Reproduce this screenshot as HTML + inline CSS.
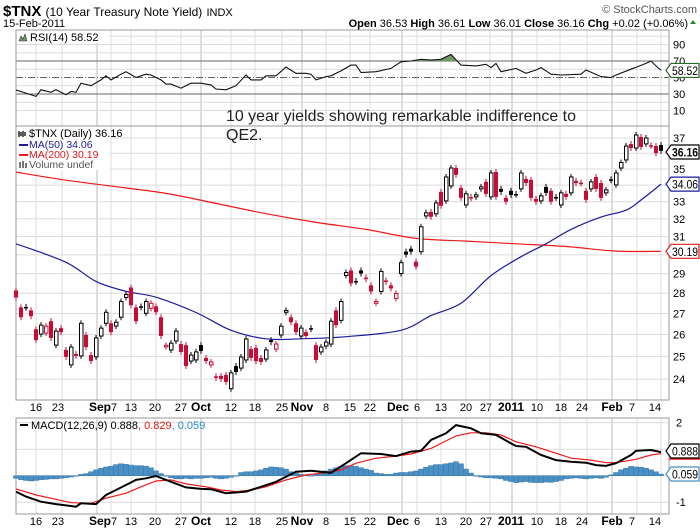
<!DOCTYPE html>
<html><head><meta charset="utf-8">
<style>
html,body{margin:0;padding:0;background:#fff;}
svg{display:block;font-family:"Liberation Sans",Arial,sans-serif;}
</style></head>
<body>
<svg id="chart" width="700" height="530" viewBox="0 0 700 530" xmlns="http://www.w3.org/2000/svg" style="position:absolute;left:0;top:0;">
  <text x="3" y="16" font-size="15" font-weight="bold" fill="#000">$TNX <tspan font-size="12" font-weight="normal">(10 Year Treasury Note Yield)</tspan> <tspan font-size="11" font-weight="normal">INDX</tspan></text>
  <text x="3" y="27" font-size="11" fill="#000">15-Feb-2011</text>
  <text x="697" y="13" font-size="11" fill="#555" text-anchor="end">© StockCharts.com</text>
  <text x="688" y="27" font-size="11" fill="#000" text-anchor="end"><tspan font-weight="bold">Open</tspan> 36.53  <tspan font-weight="bold">High</tspan> 36.61  <tspan font-weight="bold">Low</tspan> 36.01  <tspan font-weight="bold">Close</tspan> 36.16  <tspan font-weight="bold">Chg</tspan> +0.02 (+0.06%)</text>
  <polygon points="690,24 693,20 696,24" fill="#2a8a2a"/>
  <g id="grid"></g>
  <g id="series"></g>
  <g id="legends">
    <g>
      <rect x="17" y="31" width="92" height="12" fill="#fff"/>
      <path d="M19,41 L21,36 L23,39 L25,34 L27,41 Z" fill="#6f9a66" stroke="#333" stroke-width="0.6"/>
      <text x="30" y="41" font-size="11" fill="#000">RSI(14) 58.52</text>
    </g>
    <g>
      <rect x="17" y="127" width="93" height="43" fill="#fff"/>
      <path d="M19,131 v6 M21,132 v4 M23,131 v6 M25,132 v4" stroke="#000" stroke-width="1.3"/>
      <text x="29" y="137" font-size="11" fill="#000">$TNX (Daily) 36.16</text>
      <line x1="19" y1="145" x2="28" y2="145" stroke="#1c1c9c" stroke-width="2"/>
      <text x="29" y="148" font-size="10.5" fill="#1c1c9c">MA(50) 34.06</text>
      <line x1="19" y1="155" x2="28" y2="155" stroke="#f01818" stroke-width="2"/>
      <text x="29" y="158" font-size="10.5" fill="#e01818">MA(200) 30.19</text>
      <rect x="19" y="162" width="2" height="6" fill="#777"/><rect x="22" y="161" width="2" height="7" fill="#777"/><rect x="25" y="163" width="2" height="5" fill="#777"/>
      <text x="29" y="168" font-size="10.5" fill="#555">Volume undef</text>
    </g>
    <g>
      <text x="226" y="121" font-size="16" fill="#222" textLength="350" lengthAdjust="spacingAndGlyphs">10 year yields showing remarkable indifference to</text>
      <text x="226" y="140" font-size="16" fill="#222">QE2.</text>
    </g>
    <g>
      <line x1="20" y1="425" x2="28" y2="425" stroke="#000" stroke-width="2"/>
      <text x="31" y="429" font-size="11" fill="#000">MACD(12,26,9) 0.888<tspan fill="#e01818">, 0.829</tspan><tspan fill="#2a8ac8">, 0.059</tspan></text>
    </g>
  </g>
  <g id="overlay"></g>
</svg>
<script>
// ---------- DATA ----------
const openVals = [28.14,27.30,27.32,27.15,26.25,26.02,26.07,26.63,25.51,26.30,25.29,24.62,25.11,25.02,25.98,25.06,24.98,25.93,26.53,26.53,26.40,26.82,27.79,28.29,27.30,27.35,27.01,27.25,27.35,26.82,25.44,25.29,25.70,25.56,25.51,24.79,24.84,25.51,24.93,24.62,24.12,24.14,24.18,23.59,24.57,24.48,24.84,25.33,25.38,24.93,24.88,25.74,25.33,25.98,27.06,26.82,26.53,25.93,26.11,26.30,25.51,25.20,25.47,25.56,27.15,26.67,28.91,29.17,28.62,29.17,28.80,28.40,27.50,28.09,28.65,28.40,27.74,29.01,30.17,30.33,29.63,30.17,32.17,32.40,32.29,33.59,33.05,33.95,35.06,33.83,32.81,33.28,33.29,33.77,34.20,33.29,34.81,33.77,33.23,33.65,33.46,33.77,34.38,34.32,33.17,33.05,33.89,33.65,33.28,32.81,33.47,33.53,34.26,34.15,33.65,33.77,34.50,34.13,33.53,34.35,34.01,35.06,35.57,36.60,36.34,37.07,36.61,36.52,36.47,36.53];
const closeVals = [27.79,26.82,27.28,26.87,25.74,26.44,26.39,25.84,26.16,26.11,24.98,25.42,25.02,26.53,25.42,24.79,25.84,26.30,27.06,26.11,26.58,27.59,27.94,27.40,26.63,27.30,27.59,27.50,27.06,25.93,25.50,25.60,26.16,25.20,24.57,25.06,25.20,25.24,24.79,24.75,24.05,24.01,23.88,24.27,24.31,24.97,25.79,24.93,24.79,24.75,25.29,25.65,25.56,26.39,27.15,26.58,26.11,26.30,25.93,26.25,24.84,25.42,25.65,26.63,26.44,27.59,29.06,28.50,28.58,29.01,28.72,28.09,27.59,29.12,28.58,28.24,27.99,29.58,30.01,30.17,29.37,31.55,32.35,32.12,32.93,32.76,34.50,35.06,34.63,33.23,33.47,33.20,33.41,33.89,33.47,34.75,33.29,33.59,33.00,33.41,33.43,34.75,34.13,33.23,33.00,33.35,33.53,33.00,33.23,33.53,33.29,34.50,34.13,34.10,33.11,34.20,33.77,33.23,33.71,34.30,34.75,35.41,36.47,36.34,37.20,36.41,37.00,36.47,36.01,36.16];
const ma50Idx = [0,10,16,22,28,36,43,50,57,66,77,83,89,95,101,106,111,117,122,125,129];
const ma50Vals = [30.6,29.6,28.6,28.1,27.8,27.05,26.2,25.8,25.8,25.9,26.2,26.9,27.5,28.9,29.9,30.6,31.4,32.1,32.5,33.1,34.06];
const ma200Idx = [0,10,20,30,40,50,60,70,80,90,100,110,120,129];
const ma200Vals = [34.8,34.3,33.9,33.5,32.9,32.3,31.8,31.4,30.9,30.75,30.6,30.45,30.2,30.19];
const rsiIdx = [0,2,4,5,7,8,10,11,12,13,15,17,18,19,21,22,24,26,27,29,30,31,33,35,37,39,40,42,44,46,47,49,50,52,54,56,58,59,60,62,63,65,67,68,69,72,75,77,79,81,83,85,87,89,92,94,95,96,97,100,102,104,105,107,109,113,114,117,119,120,123,126,127,128,129];
const rsiVals = [34.8,31,27,35,32,35,29,33,32,43,40,47,52,47,54,57,50,54,53,47,42,42,37,43,43,41,36,35,40,53,47,47,52,52,62.5,55,55,54,47,51,52,58,65,65,56,57,61,69,70,72,71,72,78,65,64,66,62,67,57,61,55,59,62,54,53,54,59,51,50,53,60,67,70,64,58.52];
const macdIdx = [0,2,5,8,10,12,13,16,18,20,24,26,28,31,34,37,39,42,46,49,52,56,59,63,66,69,73,76,79,81,83,86,88,91,93,96,99,100,102,105,108,111,114,116,118,120,123,124,127,129];
const macdVals = [-0.60,-0.79,-0.98,-1.07,-1.12,-1.17,-1.04,-1.07,-0.73,-0.54,-0.16,-0.10,-0.01,-0.23,-0.44,-0.50,-0.51,-0.66,-0.60,-0.42,-0.23,0.15,0.19,0.11,0.47,0.85,0.82,0.74,0.91,0.94,1.35,1.60,1.91,1.79,1.60,1.54,1.22,1.12,1.09,0.78,0.59,0.53,0.49,0.40,0.37,0.47,0.78,0.94,0.97,0.89];
const sigIdx = [0,4,8,11,15,18,22,25,28,31,34,38,41,44,47,50,54,58,61,65,68,72,75,79,83,85,88,91,94,97,100,104,108,111,115,118,120,124,127,129];
const sigVals = [-0.50,-0.73,-0.89,-1.02,-1.04,-0.85,-0.66,-0.42,-0.20,-0.16,-0.31,-0.42,-0.54,-0.60,-0.54,-0.42,-0.16,0.03,0.09,0.22,0.47,0.66,0.72,0.82,1.03,1.22,1.50,1.62,1.62,1.54,1.28,1.09,0.85,0.66,0.59,0.49,0.49,0.62,0.78,0.83];
const histVals = [-0.10,-0.15,-0.18,-0.20,-0.18,-0.15,-0.14,-0.12,-0.12,-0.10,-0.08,-0.05,0.0,0.05,0.08,0.15,0.22,0.28,0.33,0.36,0.42,0.45,0.43,0.40,0.38,0.38,0.36,0.30,0.18,0.08,-0.02,-0.08,-0.12,-0.12,-0.10,-0.12,-0.10,-0.10,-0.08,-0.06,-0.10,-0.12,-0.10,-0.06,-0.02,0.12,0.15,0.15,0.18,0.22,0.28,0.33,0.32,0.30,0.25,0.15,0.10,0.05,0.02,0.00,0.05,0.10,0.18,0.25,0.30,0.35,0.38,0.37,0.35,0.30,0.25,0.20,0.10,0.08,0.05,0.05,0.10,0.12,0.12,0.15,0.18,0.25,0.32,0.38,0.42,0.42,0.45,0.48,0.53,0.45,0.25,0.10,-0.02,-0.05,-0.08,-0.08,-0.10,-0.12,-0.18,-0.22,-0.26,-0.24,-0.22,-0.25,-0.26,-0.26,-0.24,-0.25,-0.22,-0.18,-0.12,-0.10,-0.08,-0.10,-0.12,-0.10,-0.08,-0.10,-0.06,0.03,0.12,0.22,0.28,0.35,0.33,0.32,0.28,0.22,0.15,0.06];
const priceTicks = [37,35,33,32,31,29,28,27,26,25,24];
const priceGrid = [24,25,26,27,28,29,30,31,32,33,34,35,36,37];
const rsiTicks = [90,70,50,30,10];
const macdTicks = [2,-1];
const lastVals = {rsi:"58.52", close:"36.16", ma50:"34.06", ma200:"30.19", macd:"0.888", hist:"0.059"};

// ---------- SCALES ----------
const X0 = 16, DX = 5, RIGHT = 669, LEFT = 16;
const xOf = i => X0 + i * DX;
const yP = v => 138 + 557 * Math.log(37 / v);
const yR = v => 118.7 - 0.825 * v;
const yM = v => 475.7 - 26.5 * v;
const NS = "http://www.w3.org/2000/svg";
const grid = document.getElementById('grid');
const series = document.getElementById('series');
const overlay = document.getElementById('overlay');
function mk(tag, attrs, parent) {
  const e = document.createElementNS(NS, tag);
  for (const k in attrs) e.setAttribute(k, attrs[k]);
  parent.appendChild(e);
  return e;
}
function pathFrom(idx, vals, yf) {
  return idx.map((ix, k) => (k ? 'L' : 'M') + xOf(ix).toFixed(1) + ',' + yf(vals[k]).toFixed(1)).join(' ');
}
function smoothFrom(idx, vals, yf) {
  const p = idx.map((ix, k) => [xOf(ix), yf(vals[k])]);
  let d = 'M' + p[0][0] + ',' + p[0][1];
  for (let i = 0; i < p.length - 1; i++) {
    const p0 = p[Math.max(0, i-1)], p1 = p[i], p2 = p[i+1], p3 = p[Math.min(p.length-1, i+2)];
    const c1 = [p1[0] + (p2[0]-p0[0])/6, p1[1] + (p2[1]-p0[1])/6];
    const c2 = [p2[0] - (p3[0]-p1[0])/6, p2[1] - (p3[1]-p1[1])/6];
    d += ' C' + c1[0].toFixed(1) + ',' + c1[1].toFixed(1) + ' ' + c2[0].toFixed(1) + ',' + c2[1].toFixed(1) + ' ' + p2[0].toFixed(1) + ',' + p2[1].toFixed(1);
  }
  return d;
}

// ---------- PANES / GRID ----------
const panes = [[30,126],[126,400],[418,514]];
const weekX = [36,62,111,131,156,181,231,255,282,326,350,370,417,441,466,490,537,560,587,637,661];
const monthX = [97,201,302,402,512,612];
panes.forEach(p => {
  weekX.forEach(x => {
    const l = mk('line', {x1:x, x2:x, y1:p[0], y2:p[1], stroke:'#dcdcdc', 'stroke-width':1}, grid);
    
    
  });
  monthX.forEach(x => {
    const l = mk('line', {x1:x, x2:x, y1:p[0], y2:p[1], stroke:'#bbbbbb', 'stroke-width':1}, grid);
    
    
  });
});
for (let v = 10; v <= 100; v += 10) {
  if (v === 70 || v === 30 || v === 50) continue;
  const l = mk('line', {x1:LEFT, x2:RIGHT, y1:yR(v), y2:yR(v), stroke:'#dcdcdc'}, grid);
  
  
}
[70,30].forEach(v => {
  const l = mk('line', {x1:LEFT, x2:RIGHT, y1:yR(v), y2:yR(v), stroke:'#666'}, grid);
  
  
});
{
  const l = mk('line', {x1:LEFT, x2:RIGHT, y1:yR(50), y2:yR(50), stroke:'#666', 'stroke-dasharray':'7,2,1,2'}, grid);
  
  
}
priceGrid.forEach(v => {
  const l = mk('line', {x1:LEFT, x2:RIGHT, y1:yP(v), y2:yP(v), stroke:'#dcdcdc'}, grid);
  
  
});
[2,1,0,-1].forEach(v => {
  const l = mk('line', {x1:LEFT, x2:RIGHT, y1:yM(v), y2:yM(v), stroke:'#dcdcdc'}, grid);
  
  
});
panes.forEach(p => {
  const r = mk('rect', {x:LEFT, y:p[0], width:RIGHT-LEFT, height:p[1]-p[0], fill:'none', stroke:'#999'}, grid);
  
  
});

const defs = mk('defs', {}, document.getElementById('chart'));
panes.forEach((p, pi) => {
  const c = mk('clipPath', {id:'clip' + pi}, defs);
  mk('rect', {x:LEFT, y:p[0], width:RIGHT-LEFT, height:p[1]-p[0]}, c);
});
const c70 = mk('clipPath', {id:'clip70'}, defs);
mk('rect', {x:LEFT, y:30, width:RIGHT-LEFT, height:yR(70)-30}, c70);

// ---------- RSI ----------
const rsiPath = pathFrom(rsiIdx, rsiVals, yR);
const rsiFill = mk('path', {d: rsiPath + ' L' + xOf(rsiIdx[rsiIdx.length-1]) + ',' + yR(70) + ' L' + xOf(rsiIdx[0]) + ',' + yR(70) + ' Z', fill:'#6f9a66', 'clip-path':'url(#clip70)'}, series);


const rsiLine = mk('path', {d: rsiPath, fill:'none', stroke:'#111', 'stroke-width':1.1, 'clip-path':'url(#clip0)'}, series);



// ---------- MOVING AVERAGES ----------
const m200 = mk('path', {d: smoothFrom(ma200Idx, ma200Vals, yP), fill:'none', stroke:'#f01818', 'stroke-width':1.2, 'clip-path':'url(#clip1)'}, series);


const m50 = mk('path', {d: smoothFrom(ma50Idx, ma50Vals, yP), fill:'none', stroke:'#1c1c9c', 'stroke-width':1.2, 'clip-path':'url(#clip1)'}, series);



// ---------- CANDLES ----------
const RED = '#cc0a36';
openVals.forEach((o, i) => {
  const c = closeVals[i];
  const prev = i ? closeVals[i-1] : c + 1;
  const col = c < prev ? RED : '#000';
  const filled = c < o;
  const x = xOf(i);
  const yt = yP(Math.max(o, c)), yb = yP(Math.min(o, c));
  const g = mk('g', {}, series);
  
  
  mk('line', {x1:x, x2:x, y1:yt-3, y2:yb+3, stroke:col, 'stroke-width':1}, g);
  const h = Math.max(1.5, yb - yt);
  if (filled) mk('rect', {x:x-2, y:yt, width:4, height:h, fill:col}, g);
  else mk('rect', {x:x-1.5, y:yt, width:3.5, height:Math.max(1, h), fill:'#fff', stroke:col, 'stroke-width':1}, g);
});

// ---------- MACD ----------
histVals.forEach((v, i) => {
  const y0 = yM(0), y1 = yM(v);
  const r = mk('rect', {x:xOf(i)-2.5, y:Math.min(y0,y1), width:5, height:Math.max(0.5, Math.abs(y1-y0)), fill:'#4a90c4', stroke:'#3a78a8', 'stroke-width':0.5}, series);
  
  
});
const sigLine = mk('path', {d: pathFrom(sigIdx, sigVals, yM), fill:'none', stroke:'#f01818', 'stroke-width':1.2, 'clip-path':'url(#clip2)'}, series);


const macdLine = mk('path', {d: pathFrom(macdIdx, macdVals, yM), fill:'none', stroke:'#000', 'stroke-width':2, 'clip-path':'url(#clip2)'}, series);



// ---------- AXIS LABELS ----------
function txt(x, y, s, attrs, name) {
  const t = mk('text', Object.assign({x:x, y:y, 'font-size':11, fill:'#000'}, attrs || {}), overlay);
  t.textContent = s;
  
  
  return t;
}
rsiTicks.forEach(v => txt(673, yR(v) + 4, String(v), {}, 'rsi-tick-label'));
priceTicks.forEach(v => txt(673, yP(v) + 4, String(v), {}, 'price-tick-label'));
macdTicks.forEach(v => txt(676, yM(v) + 4, String(v), {}, 'macd-tick-label'));
const dateSpec = [[36,"16"],[58,"23"],[100,"Sep",1],[114,"7"],[131,"13"],[155,"20"],[181,"27"],[201,"Oct",1],[231,"12"],[255,"18"],[282,"25"],[302,"Nov",1],[326,"8"],[350,"15"],[370,"22"],[398,"Dec",1],[417,"6"],[441,"13"],[466,"20"],[486,"27"],[511,"2011",1],[537,"10"],[561,"18"],[582,"24"],[612,"Feb",1],[632,"7"],[655,"14"]];
[411, 525].forEach(yy => {
  dateSpec.forEach(d => {
    txt(d[0], yy, d[1], {'text-anchor':'middle', 'font-weight': d[2] ? 'bold' : 'normal', 'font-size': d[2] ? 12 : 11}, 'date-axis-label');
  });
});

// ---------- VALUE TAGS ----------
function tag(y, s, color, bold, name) {
  const g = mk('g', {}, overlay);
  
  
  mk('path', {d:`M666,${y} L671,${y-7} L699,${y-7} L699,${y+7} L671,${y+7} Z`, fill:'#fff', stroke:color, 'stroke-width':1.2}, g);
  const t = mk('text', {x:672, y:y+4.5, 'font-size': bold ? 12 : 11.5, 'font-weight': bold ? 'bold' : 'normal', fill:'#000', textLength:26, lengthAdjust:'spacingAndGlyphs'}, g);
  t.textContent = s;
}
tag(yR(58.52), lastVals.rsi, '#2a6a2a', false, 'rsi-value-tag');
tag(152, lastVals.close, '#000', true, 'close-value-tag');
tag(yP(34.06), lastVals.ma50, '#1c1c9c', false, 'ma50-value-tag');
tag(yP(30.19), lastVals.ma200, '#e01818', false, 'ma200-value-tag');
{
  const l = mk('line', {x1:669, x2:700, y1:459, y2:459, stroke:'#f01818', 'stroke-width':1.5}, overlay);
  
  
}
tag(451, lastVals.macd, '#000', false, 'macd-value-tag');
tag(474, lastVals.hist, '#4a90c4', false, 'histogram-value-tag');
</script>
</body></html>
